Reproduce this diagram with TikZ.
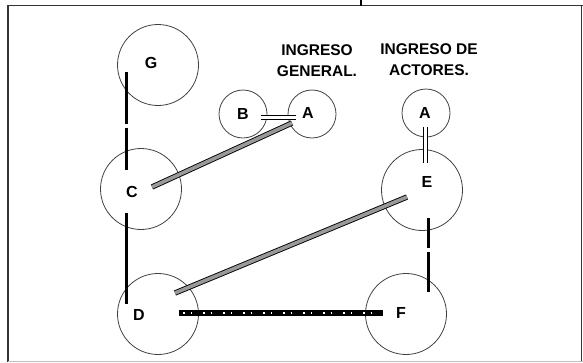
\documentclass[tikz,border=0pt]{standalone}
\usepackage{fontspec}
\setsansfont{Liberation Sans}
\usetikzlibrary{calc}

\begin{document}
\begin{tikzpicture}[x=1pt,y=-1pt,
    sala/.style={draw=black!75, line width=0.8pt, circle, minimum size=81pt, inner sep=0pt},
    puerta/.style={sala, minimum size=48pt},
    letra/.style={font=\sffamily\bfseries\fontsize{16}{16}\selectfont, inner sep=0pt},
    rotulo/.style={font=\sffamily\bfseries\fontsize{15.5}{21}\selectfont, align=center, inner sep=0pt},
    muro/.style={line width=2.8pt},
    rampa/.style={line width=0.9pt, double=black!40, double distance=3.6pt},
    paso/.style={line width=0.9pt, double=white, double distance=3.6pt}]
        \useasboundingbox (0,0) rectangle (583,362);

        % marco
        \draw[line width=1.6pt, black!80] (8,362) -- (8,5.5) -- (583,5.5);
        \draw[line width=1.2pt] (361,0) -- (361,5.5);
        \draw[line width=1.2pt, black!80] (581.5,5.5) -- (581.5,361);
        \draw[line width=1pt, gray!50] (8,361) -- (583,361);

        % salas
        \node[sala] (G) at (158,65) {};
        \node[sala] (C) at (141,189) {};
        \node[sala] (D) at (158,314) {};
        \node[sala] (E) at (422,190) {};
        \node[sala] (F) at (406,314) {};
        \node[puerta] (B) at (243,114) {};
        \node[puerta] (A1) at (312,114) {};
        \node[puerta] (A2) at (426,113) {};

        \node[letra] (tG) at (151,63) {G};
        \node[letra] (tC) at (132,192) {C};
        \node[letra] (tD) at (139,315) {D};
        \node[letra] (tE) at (427,182) {E};
        \node[letra] (tF) at (401,313) {F};
        \node[letra] (tB) at (243,114) {B};
        \node[letra] (tA1) at (308,113) {A};
        \node[letra] (tA2) at (425,113) {A};

        \node[rotulo] (ingG) at (317,60.5) {INGRESO\\GENERAL.};
        \node[rotulo] (ingA) at (429,59.5) {INGRESO DE\\ACTORES.};

        % puntos de los tramos
        \coordinate (g1) at (126.5,72);
        \coordinate (g2) at (126.5,124);
        \coordinate (g3) at (126.5,127.5);
        \coordinate (c1) at (126.5,170);
        \coordinate (c2) at (126.5,213);
        \coordinate (d1) at (126.5,304);
        \coordinate (e1) at (428.5,218);
        \coordinate (e4) at (428.5,248);
        \coordinate (e5) at (428.5,252);
        \coordinate (f1) at (428.5,292);
        \coordinate (c3) at (152,187);
        \coordinate (a1) at (292,123);
        \coordinate (d2) at (175,293);
        \coordinate (e2) at (407,197);
        \coordinate (b1) at (261,117.5);
        \coordinate (a2) at (296,117.5);
        \coordinate (a3) at (425.5,127);
        \coordinate (e3) at (425.5,163);
        \coordinate (d3) at (179,313);
        \coordinate (f2) at (383,313);

        \draw[muro] (g1) -- (g2);
        \draw[muro] (g3) -- (c1);
        \draw[muro] (c2) -- (d1);
        \draw[muro] (e1) -- (e4);
        \draw[muro] (e5) -- (f1);

        \draw[rampa] (c3) -- (a1);
        \draw[rampa] (d2) -- (e2);
        \draw[paso] (b1) -- (a2);
        \draw[paso] (a3) -- (e3);

        \draw[line width=5.5pt] (d3) -- (f2);
        \draw[white, line width=1.6pt, dash pattern=on 1.6pt off 6pt on 1.6pt off 10.8pt] ($(d3)+(4,0)$) -- ($(f2)+(-2,0)$);
    \end{tikzpicture}
\end{document}
